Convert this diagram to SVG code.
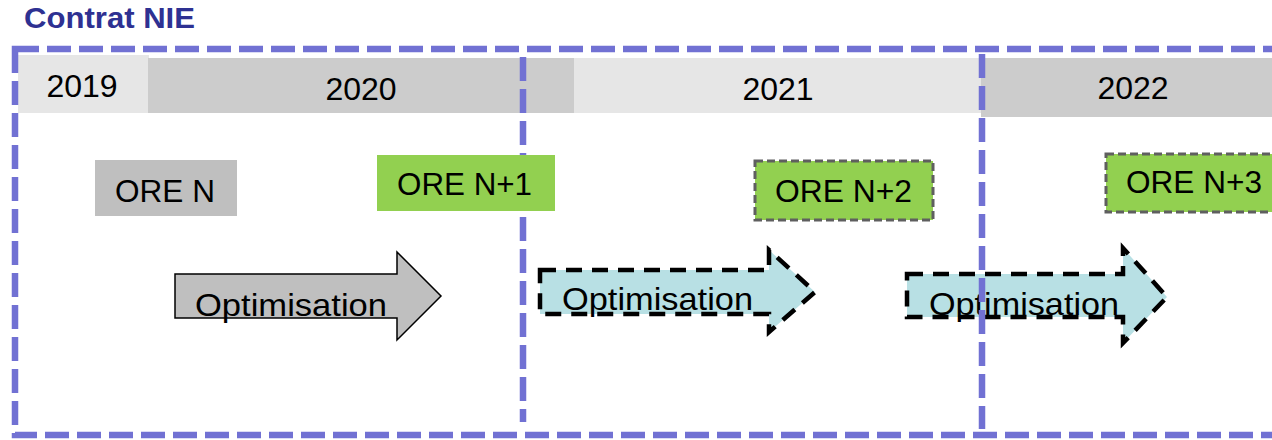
<svg xmlns="http://www.w3.org/2000/svg" width="1272" height="440" viewBox="0 0 1272 440">
  <style>
    .year { font-family: "Liberation Sans", Arial, sans-serif; font-size: 32px; fill: #000; text-anchor: middle; }
    .ore { font-family: "Liberation Sans", Arial, sans-serif; font-size: 32px; fill: #000; }
    .opt { font-family: "Liberation Sans", Arial, sans-serif; font-size: 32px; fill: #000; }
    .frame { fill: none; stroke: #7171D3; stroke-width: 6.5; stroke-dasharray: 24 8; }
    .bar-light { fill: #E6E6E6; }
    .bar-dark { fill: #CCCCCC; }
    .green { fill: #92D050; }
    .green-dash { fill: #92D050; stroke: #5F5F5F; stroke-width: 3; stroke-dasharray: 8 4; }
    .arrow-solid { fill: #BFBFBF; stroke: #000; stroke-width: 1.5; }
    .arrow-dash { fill: #B8E0E4; stroke: #000; stroke-width: 4.5; stroke-dasharray: 16 10; }
  </style>

  <!-- title -->
  <text x="24" y="28" font-family="Liberation Sans, Arial, sans-serif" font-weight="bold" font-size="29" fill="#2E3192" textLength="171" lengthAdjust="spacingAndGlyphs">Contrat NIE</text>

  <!-- year timeline -->
  <g id="years">
    <rect class="bar-light" x="18" y="55" width="131" height="58"/>
    <rect class="bar-dark" x="148" y="58" width="426" height="55"/>
    <rect class="bar-light" x="574" y="58" width="408" height="55"/>
    <rect class="bar-dark" x="981" y="58" width="291" height="59"/>
    <text class="year" x="82" y="97">2019</text>
    <text class="year" x="361" y="100">2020</text>
    <text class="year" x="778" y="100">2021</text>
    <text class="year" x="1133" y="99">2022</text>
  </g>

  <!-- contract frame -->
  <rect id="contract-frame" class="frame" x="15" y="49" width="1290" height="386"/>

  <!-- optimisation arrows -->
  <g id="opt-2020">
    <polygon class="arrow-solid" points="175,274 397,274 397,252 441,296 397,340 397,318 175,318"/>
    <text class="opt" x="195" y="316" textLength="192" lengthAdjust="spacingAndGlyphs">Optimisation</text>
  </g>
  <g id="opt-2021">
    <polygon class="arrow-dash" points="540,270 769,270 769,250 815,292 769,332 769,314 540,314"/>
    <text class="opt" x="562" y="310" textLength="191" lengthAdjust="spacingAndGlyphs">Optimisation</text>
  </g>
  <g id="opt-2022">
    <polygon class="arrow-dash" points="907,274 1123,274 1123,248 1167,297 1123,343 1123,317 907,317"/>
    <text class="opt" x="929" y="315" textLength="190" lengthAdjust="spacingAndGlyphs">Optimisation</text>
  </g>

  <!-- year separators -->
  <g id="separators">
    <line class="frame" x1="523" y1="57" x2="523" y2="422"/>
    <line class="frame" x1="982" y1="54" x2="982" y2="429"/>
  </g>

  <!-- ORE milestones -->
  <g id="ore-n">
    <rect x="95" y="160" width="142" height="56" fill="#BFBFBF"/>
    <text class="ore" x="115" y="202" textLength="100" lengthAdjust="spacingAndGlyphs">ORE N</text>
  </g>
  <g id="ore-n1">
    <rect class="green" x="377" y="155" width="178" height="56"/>
    <text class="ore" x="397" y="195" textLength="135" lengthAdjust="spacingAndGlyphs">ORE N+1</text>
  </g>
  <g id="ore-n2">
    <rect class="green-dash" x="755" y="161" width="178" height="59"/>
    <text class="ore" x="775" y="202" textLength="137" lengthAdjust="spacingAndGlyphs">ORE N+2</text>
  </g>
  <g id="ore-n3">
    <rect class="green-dash" x="1106" y="154" width="178" height="58"/>
    <text class="ore" x="1126" y="193" textLength="136" lengthAdjust="spacingAndGlyphs">ORE N+3</text>
  </g>
</svg>
